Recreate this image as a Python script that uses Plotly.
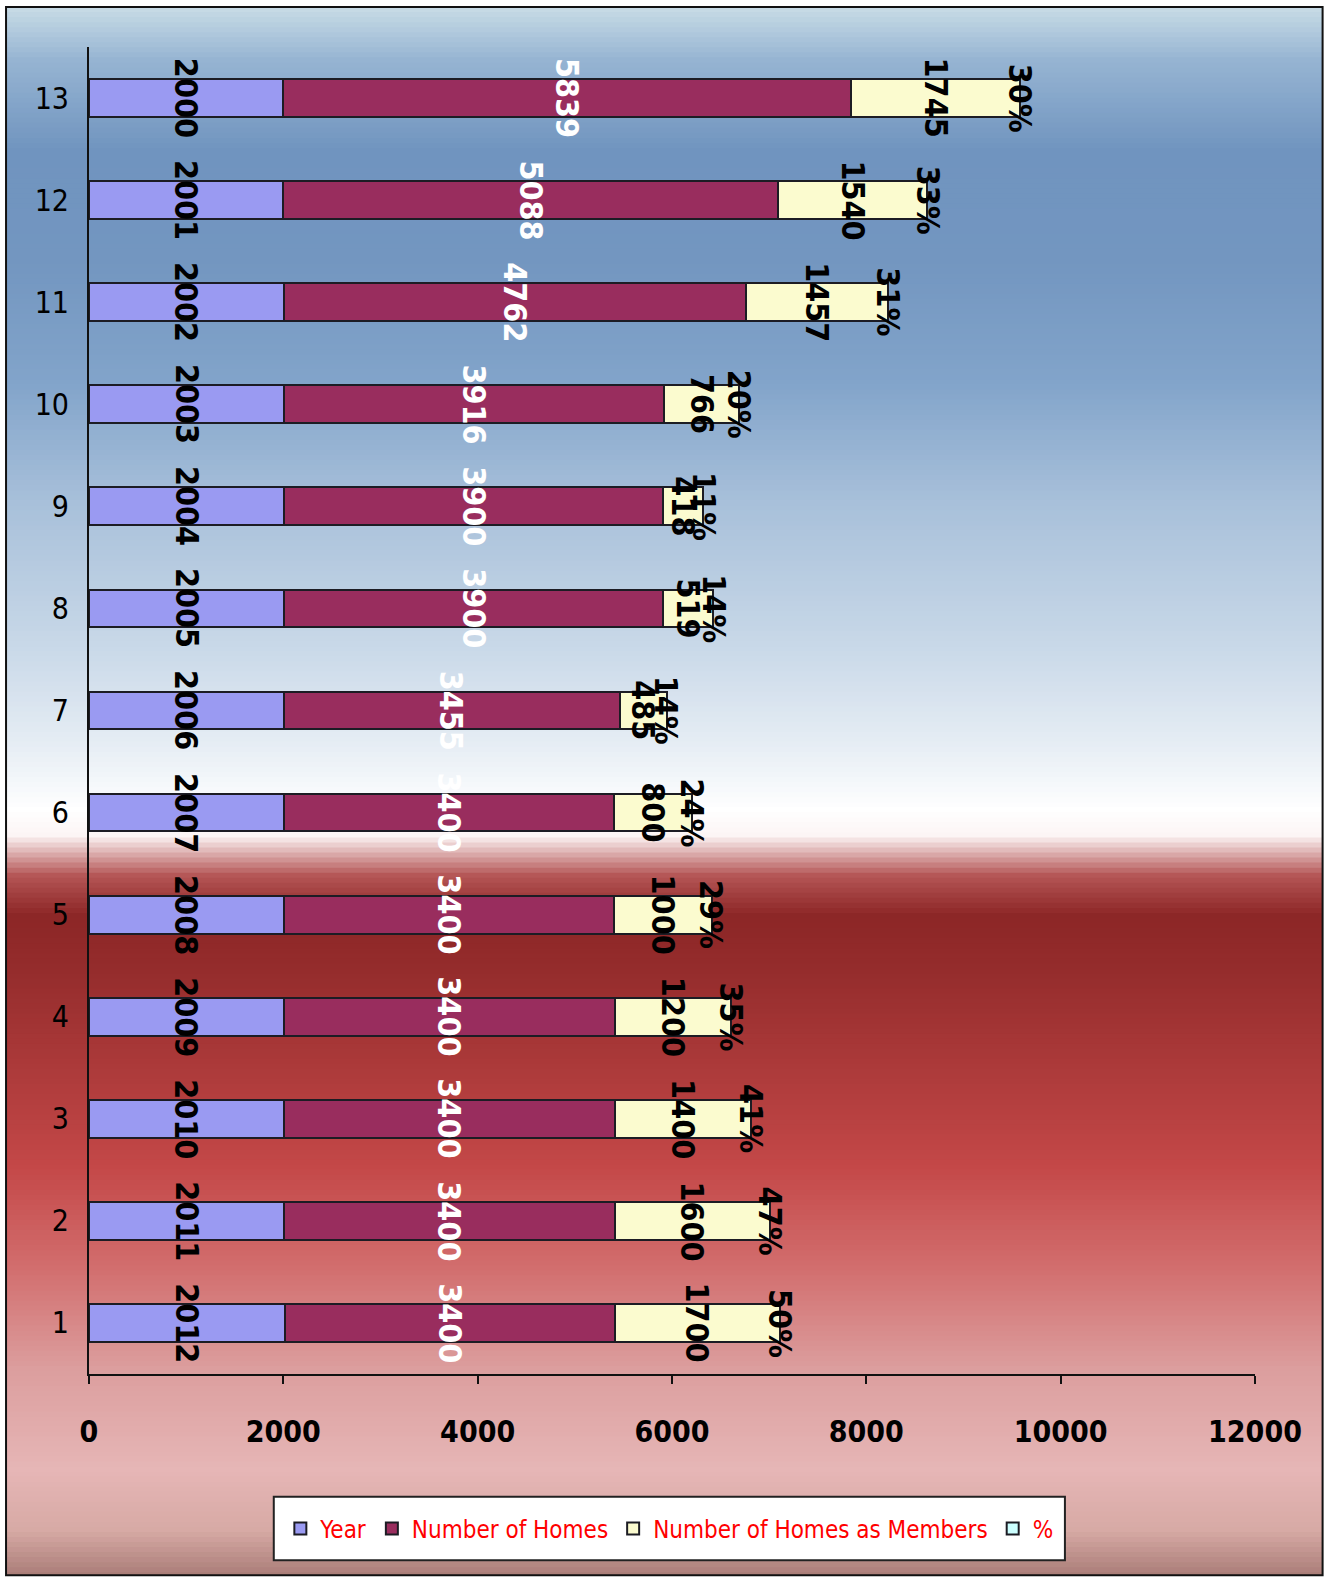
import plotly.graph_objects as go

# ---- data ----
categories = [1, 2, 3, 4, 5, 6, 7, 8, 9, 10, 11, 12, 13]
year = [2012, 2011, 2010, 2009, 2008, 2007, 2006, 2005, 2004, 2003, 2002, 2001, 2000]
homes = [3400, 3400, 3400, 3400, 3400, 3400, 3455, 3900, 3900, 3916, 4762, 5088, 5839]
members = [1700, 1600, 1400, 1200, 1000, 800, 485, 519, 418, 766, 1457, 1540, 1745]
pct = [0.50, 0.47, 0.41, 0.35, 0.29, 0.24, 0.14, 0.14, 0.11, 0.20, 0.31, 0.33, 0.30]
pct_labels = ["50%", "47%", "41%", "35%", "29%", "24%", "14%", "14%", "11%", "20%", "31%", "33%", "30%"]
series_names = ["Year", "Number of Homes", "Number of Homes as Members", "%"]
x_ticks = [0, 2000, 4000, 6000, 8000, 10000, 12000]

# ---- geometry: reference pixels are converted to page pixels (capture scale S) ----
S = 0.9935

def P(v):
    return v / S

W, H = round(P(1327)), round(P(1578))
ML, MT = round(P(88)), round(P(47))
MR = W - round(P(1247))
MB = H - round(P(1365))
PW, PH = W - ML - MR, H - MT - MB

def px2x(px):
    return (P(px) - ML) / PW

def py2y(py):
    return (H - MB - P(py)) / PH

FONT = "DejaVu Sans Condensed, Liberation Sans Narrow, Arial Narrow, Liberation Sans, sans-serif"

fig = go.Figure()
colors = ["#9a9af2", "#992d5e", "#fbfbcf", "#ccffff"]
for name, vals, col in zip(series_names, [year, homes, members, pct], colors):
    fig.add_trace(go.Bar(
        y=categories, x=vals, name=name, orientation="h",
        marker=dict(color=col, line=dict(color="#1c1c24", width=2)),
        width=0.37, hoverinfo="x+name",
    ))

# ---- data labels ----
annots = []
for i, c in enumerate(categories):
    b1 = year[i]
    b2 = b1 + homes[i]
    b3 = b2 + members[i]
    specs = [
        (year[i] / 2, str(year[i]), "#000000"),
        (b1 + homes[i] / 2, str(homes[i]), "#ffffff"),
        (b2 + members[i] / 2, str(members[i]), "#000000"),
        (b3 + pct[i] / 2, pct_labels[i], "#000000"),
    ]
    for xv, txt, col in specs:
        annots.append(dict(
            x=xv, y=c, xref="x", yref="y", text="<b>%s</b>" % txt,
            showarrow=False, textangle=90,
            font=dict(family=FONT, size=32, color=col),
        ))

# ---- background gradient bands ----
stops = [
    (7, (200, 220, 230)),
    (60, (150, 180, 210)),
    (150, (112, 148, 191)),
    (260, (115, 150, 192)),
    (380, (130, 164, 202)),
    (500, (168, 192, 218)),
    (640, (200, 216, 232)),
    (740, (230, 237, 244)),
    (805, (255, 255, 255)),
    (830, (252, 245, 245)),
    (870, (180, 85, 85)),
    (910, (140, 38, 38)),
    (970, (150, 45, 45)),
    (1060, (172, 58, 58)),
    (1160, (196, 72, 72)),
    (1260, (210, 110, 110)),
    (1360, (220, 158, 158)),
    (1460, (230, 182, 182)),
    (1520, (215, 170, 165)),
    (1565, (170, 125, 120)),
]

def col_at(py):
    for (y0, c0), (y1, c1) in zip(stops[:-1], stops[1:]):
        if y0 <= py <= y1:
            t = (py - y0) / (y1 - y0) if y1 > y0 else 0
            return "rgb(%d,%d,%d)" % tuple(round(a + (b - a) * t) for a, b in zip(c0, c1))
    return "rgb(%d,%d,%d)" % stops[-1][1]

shapes = []
step = 5
py = 7
while py < 1565:
    py2 = min(py + step + 1, 1565)
    shapes.append(dict(
        type="rect", xref="paper", yref="paper", layer="below",
        x0=px2x(6), x1=px2x(1314), y0=py2y(py2), y1=py2y(py),
        fillcolor=col_at(py + step / 2), line=dict(width=0),
    ))
    py += step
# outer frame
shapes.append(dict(
    type="rect", xref="paper", yref="paper", layer="above",
    x0=px2x(6), x1=px2x(1314), y0=py2y(1565), y1=py2y(7),
    line=dict(color="#111111", width=2), fillcolor="rgba(0,0,0,0)",
))
# legend box
shapes.append(dict(
    type="rect", xref="paper", yref="paper", layer="below",
    x0=px2x(272), x1=px2x(1058), y0=py2y(1550), y1=py2y(1487),
    line=dict(color="#222222", width=2), fillcolor="white",
))

fig.update_layout(
    width=W, height=H,
    margin=dict(l=ML, r=MR, t=MT, b=MB),
    barmode="stack",
    paper_bgcolor="white",
    plot_bgcolor="rgba(0,0,0,0)",
    shapes=shapes,
    annotations=annots,
    font=dict(family=FONT, color="#000000"),
    showlegend=True,
    legend=dict(
        orientation="h", x=px2x(665), xanchor="center", y=py2y(1519), yanchor="middle",
        bgcolor="rgba(0,0,0,0)", borderwidth=0,
        font=dict(family=FONT, size=24, color="#ff0000"),
        traceorder="normal", itemwidth=30,
    ),
    xaxis=dict(
        range=[0, 12000], tickvals=x_ticks, ticktext=["<b>%d</b>" % v for v in x_ticks],
        showgrid=False, zeroline=False, showline=True, linecolor="#111111", linewidth=2,
        ticks="outside", ticklen=8, tickcolor="#111111", tickwidth=2,
        ticklabelstandoff=22,
        tickfont=dict(family=FONT, size=30, color="#000000"),
    ),
    yaxis=dict(
        range=[0.5, 13.5], tickvals=categories, ticktext=[str(c) for c in categories],
        showgrid=False, zeroline=False, showline=True, linecolor="#111111", linewidth=2,
        ticks="", ticklabelstandoff=12,
        tickfont=dict(family=FONT, size=30, color="#000000"),
    ),
)

fig.write_html(
    "out.html",
    config={"displayModeBar": False},
    post_script="document.body.style.margin='0px'; document.body.style.overflow='hidden';",
)
